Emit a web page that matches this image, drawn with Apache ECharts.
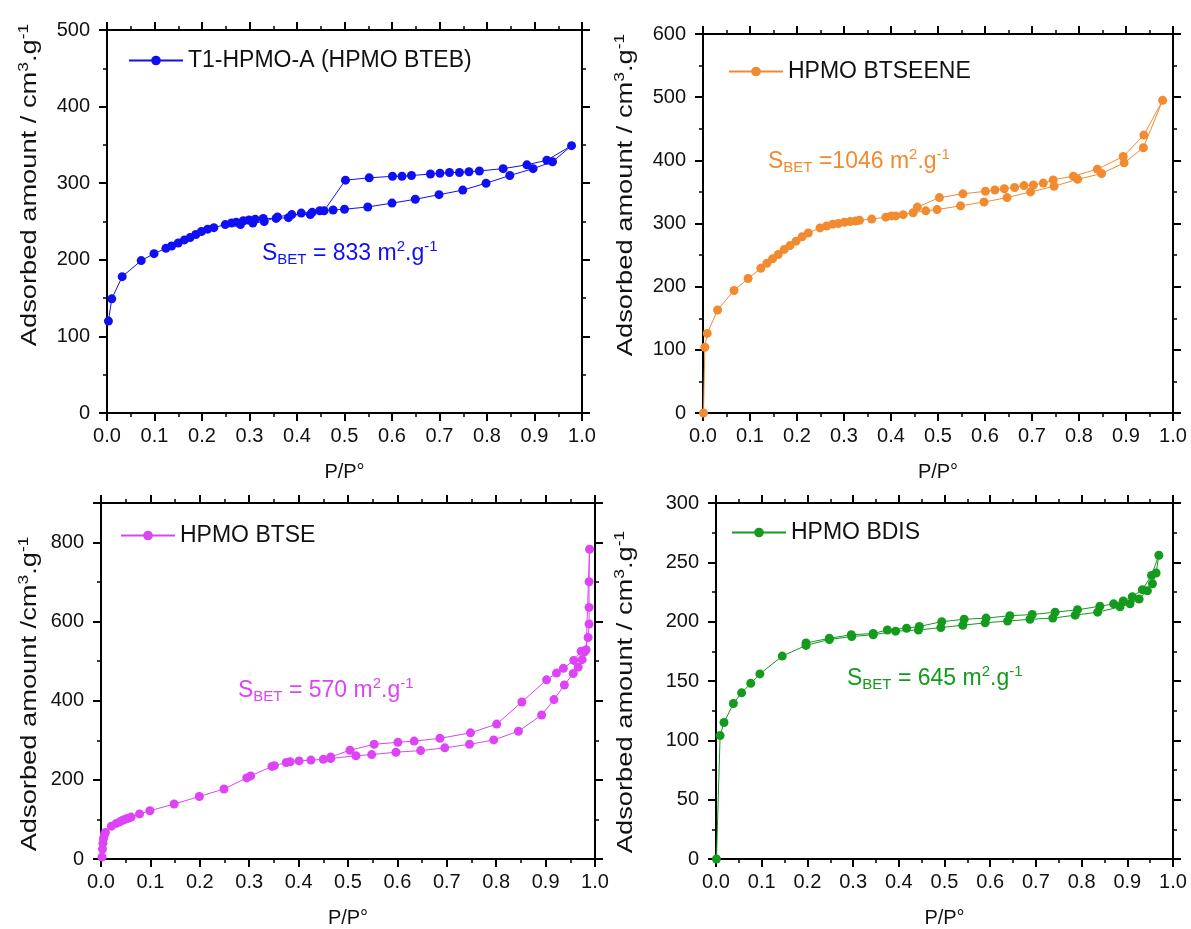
<!DOCTYPE html>
<html>
<head>
<meta charset="utf-8">
<script src="https://cdn.jsdelivr.net/npm/echarts@6/dist/echarts.min.js"></script>
<style>html,body{margin:0;padding:0;background:#fff}#c{width:1191px;height:929px}</style>
</head>
<body>
<div id="c"></div>
<script>
// ---- Panel 1: T1-HPMO-A (HPMO BTEB)
const adsP1 = [0.003,0.01,0.032,0.072,0.099,0.124,0.136,0.15,0.163,0.175,0.187,0.199,0.212,0.225,0.249,0.262,0.272,0.287,0.299,0.312,0.329,0.356,0.382,0.409,0.432,0.448,0.476,0.5,0.549,0.6,0.649,0.699,0.749,0.798,0.848,0.897,0.938,0.978];
const adsV1 = [120,149,178,199,208,215,218,222,226,229,233,237,240,242,246,248,249,251,252,253,254,254,255,261,262,264,265,266,269,274,279,285,291,300,310,319,328,349];
const desP1 = [0.926,0.884,0.834,0.784,0.762,0.742,0.721,0.701,0.681,0.641,0.621,0.601,0.552,0.502,0.457,0.428,0.389,0.359,0.331,0.307,0.281];
const desV1 = [330,324,319,316,315,314,314,313,312,310,309,309,307,304,264,259,259,256,250,248,246];
// ---- Panel 2: HPMO BTSEENE
const adsP2 = [0.001,0.004,0.009,0.031,0.066,0.096,0.123,0.136,0.148,0.16,0.173,0.185,0.198,0.211,0.224,0.249,0.263,0.276,0.288,0.301,0.313,0.325,0.333,0.359,0.389,0.401,0.41,0.426,0.447,0.474,0.498,0.548,0.598,0.647,0.697,0.747,0.797,0.848,0.896,0.937,0.978];
const adsV2 = [0,104,126,163,194,213,229,237,244,251,259,265,272,279,285,293,296,299,300,302,303,304,305,307,310,312,312,314,317,320,322,328,334,341,350,359,370,379,396,420,495];
const desP2 = [0.938,0.894,0.839,0.788,0.745,0.724,0.703,0.683,0.663,0.641,0.621,0.601,0.553,0.503,0.456];
const desV2 = [440,406,386,375,369,364,361,360,357,355,353,351,347,341,326];
// ---- Panel 3: HPMO BTSE
const adsP3 = [0.002,0.003,0.004,0.005,0.007,0.009,0.021,0.031,0.038,0.044,0.05,0.055,0.061,0.078,0.099,0.148,0.199,0.249,0.295,0.303,0.346,0.351,0.375,0.383,0.401,0.425,0.45,0.465,0.516,0.548,0.597,0.647,0.696,0.746,0.795,0.845,0.892,0.917,0.938,0.956,0.966,0.974,0.979,0.986,0.988,0.988,0.988,0.989];
const adsV3 = [5,25,40,52,62,67,83,90,94,98,101,103,106,114,122,139,158,177,205,210,234,236,244,246,248,250,252,254,261,264,270,274,281,290,301,323,364,403,440,469,485,504,524,560,594,636,701,783];
const desP3 = [0.982,0.972,0.957,0.936,0.922,0.902,0.852,0.801,0.748,0.686,0.634,0.601,0.553,0.504,0.465];
const desV3 = [529,525,502,482,470,453,397,341,319,305,298,295,290,275,258];
// ---- Panel 4: HPMO BDIS
const adsP4 = [0.001,0.009,0.0175,0.038,0.056,0.076,0.096,0.145,0.197,0.248,0.297,0.344,0.393,0.443,0.492,0.54,0.589,0.638,0.687,0.737,0.786,0.835,0.884,0.906,0.926,0.944,0.955,0.963,0.969];
const adsV4 = [0,104,115,131,140,148,156,171,180,185,187.5,189,192,193,195,197,199,200.5,202,203,205.5,208,212.5,215,219,226,232,241,256];
const desP4 = [0.953,0.933,0.911,0.891,0.87,0.84,0.791,0.742,0.692,0.643,0.591,0.543,0.494,0.445,0.417,0.375,0.344,0.296,0.248,0.197];
const desV4 = [239,227,221,217.5,215,213,210,208,206,205,203,202,200,196,194.5,193,190,189,186,182];

const names = ['T1-HPMO-A (HPMO BTEB)','HPMO BTSEENE','HPMO BTSE','HPMO BDIS'];
const colors = ['#0f0ff5','#f28a30','#dd44f5','#149a1c'];
const sbetText = ['= 833 m','=1046 m','= 570 m','= 645 m'];
const yMax = [500,600,900,300];
const yInterval = [100,100,200,50];
const yTitles = ['Adsorbed amount / cm','Adsorbed amount / cm','Adsorbed amount /cm','Adsorbed amount / cm'];
const xTitle = 'P/P°';

const adsP = [adsP1,adsP2,adsP3,adsP4], adsV = [adsV1,adsV2,adsV3,adsV4];
const desP = [desP1,desP2,desP3,desP4], desV = [desV1,desV2,desV3,desV4];

// layout
const grids = [
  {left:107, top:30, width:475, height:383},
  {left:703, top:34, width:470, height:379},
  {left:101, top:503, width:494, height:364},
  {left:716, top:503, width:457, height:360}
];
const legendPos = [[123,44],[723,55],[115,519],[726,516]];
const sbetPos = [[262,254],[768,162],[238,691],[847,679]];
const yTitlePos = [[30,185],[626,195],[30,694],[626,692]];

const FONT = 'Liberation Sans, Arial, sans-serif';
const black = '#111';

const xAxes = [], yAxes = [], series = [], legends = [], graphics = [];
for (let i = 0; i < 4; i++) {
  const axBase = {
    gridIndex: i, type: 'value',
    axisLine: {show: true, onZero: false, lineStyle: {color: '#000', width: 2}},
    axisTick: {show: true, inside: false, length: 8, lineStyle: {color: '#000', width: 2}},
    minorTick: {show: true, splitNumber: 2, length: 4, lineStyle: {color: '#000', width: 1.5}},
    splitLine: {show: false}, minorSplitLine: {show: false}
  };
  xAxes.push(Object.assign({}, axBase, {
    position: 'bottom', min: 0, max: 1, interval: 0.1,
    axisLabel: {fontSize: 20, color: black, fontFamily: FONT, margin: 13, formatter: v => v.toFixed(1)},
    name: xTitle, nameLocation: 'middle', nameGap: 49,
    nameTextStyle: {fontSize: 20, color: black, fontFamily: FONT}
  }));
  xAxes.push(Object.assign({}, axBase, {
    position: 'top', min: 0, max: 1, interval: 0.1, axisLabel: {show: false}
  }));
  yAxes.push(Object.assign({}, axBase, {
    position: 'left', min: 0, max: yMax[i], interval: yInterval[i],
    axisLabel: {fontSize: 20, color: black, fontFamily: FONT, margin: 17, showMaxLabel: yMax[i] % yInterval[i] === 0}
  }));
  yAxes.push(Object.assign({}, axBase, {
    position: 'right', min: 0, max: yMax[i], interval: yInterval[i], axisLabel: {show: false}
  }));
  const data = [];
  adsP[i].forEach((p, k) => data.push([p, adsV[i][k]]));
  desP[i].forEach((p, k) => data.push([p, desV[i][k]]));
  series.push({
    name: names[i], type: 'line', xAxisIndex: i * 2, yAxisIndex: i * 2,
    data: data, symbol: 'circle', symbolSize: 9, showSymbol: true,
    color: colors[i], lineStyle: {width: 1, color: colors[i]}, itemStyle: {color: colors[i]},
    animation: false, clip: false
  });
  legends.push({
    data: [names[i]], left: legendPos[i][0], top: legendPos[i][1],
    itemWidth: 54, itemHeight: 12, itemGap: 5,
    textStyle: {fontSize: 23, color: black, fontFamily: FONT}
  });
  graphics.push({
    type: 'text', x: sbetPos[i][0], y: sbetPos[i][1],
    style: {
      text: '{b|S}{sub|BET} {b|' + sbetText[i] + '}{sup|2}{b|.g}{sup|-1}',
      fill: colors[i], font: '23px ' + FONT, verticalAlign: 'middle', align: 'left',
      rich: {
        b: {fontSize: 23, fontFamily: FONT, fill: colors[i]},
        sub: {fontSize: 15, fontFamily: FONT, fill: colors[i], padding: [12, 0, 0, 0]},
        sup: {fontSize: 15, fontFamily: FONT, fill: colors[i], padding: [0, 0, 14, 0]}
      }
    }
  });
  graphics.push({
    type: 'text', x: yTitlePos[i][0], y: yTitlePos[i][1], rotation: Math.PI / 2,
    scaleX: 1.24, scaleY: 1,
    style: {
      text: '{b|' + yTitles[i] + '}{sup|3}{b|.g}{sup|-1}',
      fill: black, verticalAlign: 'middle', align: 'center',
      rich: {
        b: {fontSize: 22, fontFamily: FONT, fill: black},
        sup: {fontSize: 14, fontFamily: FONT, fill: black, padding: [0, 0, 12, 0]}
      }
    }
  });
}

const chart = echarts.init(document.getElementById('c'));
chart.setOption({
  backgroundColor: '#fff',
  animation: false,
  grid: grids,
  xAxis: xAxes,
  yAxis: yAxes,
  legend: legends,
  series: series,
  graphic: graphics
});
</script>
</body>
</html>
